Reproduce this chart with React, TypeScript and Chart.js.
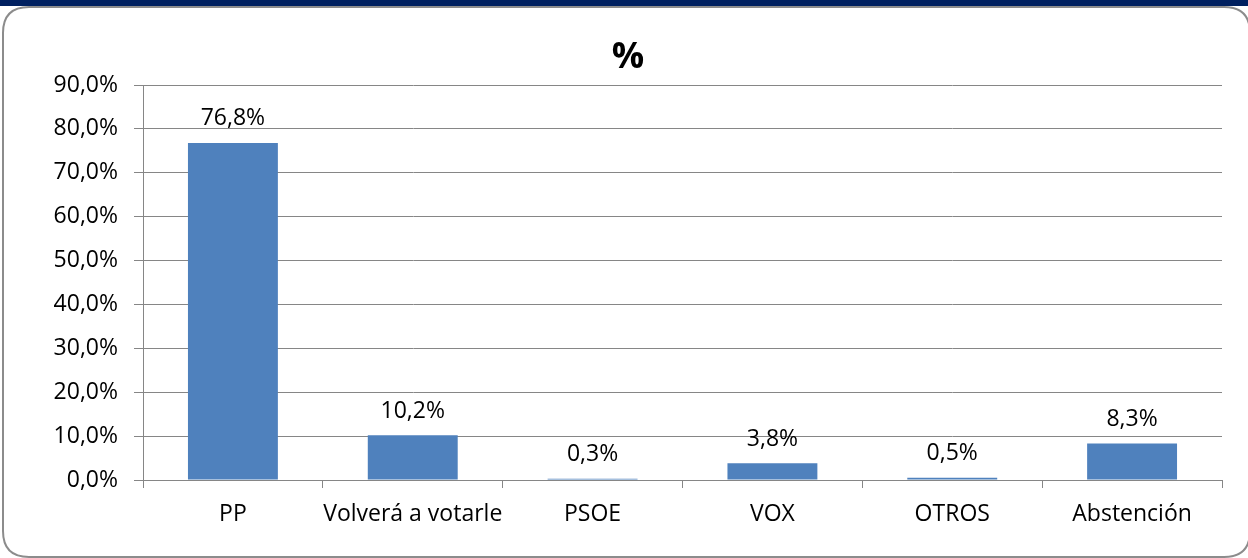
import React, { useEffect, useRef } from "react";
import { Chart, registerables } from "chart.js";

Chart.register(...registerables);

const categories = ["PP", "Volverá a votarle", "PSOE", "VOX", "OTROS", "Abstención"];
const values = [76.8, 10.2, 0.3, 3.8, 0.5, 8.3];
const titleText = "%";
const FONT = "'Open Sans', Lato, sans-serif";

const fmt = (v: number) => v.toFixed(1).replace(".", ",") + "%";

const framePlugin = {
  id: "frame",
  beforeDraw(chart: any) {
    const ctx = chart.ctx;
    ctx.save();
    ctx.fillStyle = "#ffffff";
    ctx.fillRect(0, 0, chart.width, chart.height);
    ctx.fillStyle = "#002060";
    ctx.fillRect(0, 0, chart.width, 6);
    const x = 3, y = 7, w = 1247, h = 550, r = 26;
    ctx.beginPath();
    ctx.moveTo(x + r, y);
    ctx.lineTo(x + w - r, y);
    ctx.quadraticCurveTo(x + w, y, x + w, y + r);
    ctx.lineTo(x + w, y + h - r);
    ctx.quadraticCurveTo(x + w, y + h, x + w - r, y + h);
    ctx.lineTo(x + r, y + h);
    ctx.quadraticCurveTo(x, y + h, x, y + h - r);
    ctx.lineTo(x, y + r);
    ctx.quadraticCurveTo(x, y, x + r, y);
    ctx.closePath();
    ctx.strokeStyle = "#8c8c8c";
    ctx.lineWidth = 2;
    ctx.stroke();
    ctx.fillStyle = "#000000";
    ctx.font = `bold 36px ${FONT}`;
    ctx.textAlign = "center";
    ctx.textBaseline = "middle";
    ctx.fillText(titleText, 628, 58);
    ctx.restore();
  },
  afterDatasetsDraw(chart: any) {
    const ctx = chart.ctx;
    const meta = chart.getDatasetMeta(0);
    ctx.save();
    ctx.fillStyle = "#000000";
    ctx.font = `23px ${FONT}`;
    ctx.textAlign = "center";
    ctx.textBaseline = "middle";
    meta.data.forEach((bar: any, i: number) => {
      ctx.fillText(fmt(values[i]), bar.x, bar.y - 24);
    });
    ctx.restore();
  },
};

export default function App() {
  const ref = useRef<HTMLCanvasElement | null>(null);
  useEffect(() => {
    if (!ref.current) return;
    const chart = new Chart(ref.current, {
      type: "bar",
      data: {
        labels: categories,
        datasets: [
          {
            data: values,
            backgroundColor: "#4F81BD",
            barPercentage: 0.5,
            categoryPercentage: 1,
          },
        ],
      },
      options: {
        animation: false,
        responsive: false,
        maintainAspectRatio: false,
        layout: { padding: { top: 85, right: 26, left: 0, bottom: 0 } },
        plugins: { legend: { display: false }, tooltip: { enabled: false }, title: { display: false } },
        scales: {
          x: {
            offset: true,
            grid: { offset: true, drawOnChartArea: false, drawTicks: true, tickLength: 8, color: "#868686" },
            border: { display: true, color: "#868686", width: 1 },
            ticks: { color: "#000000", font: { family: FONT, size: 23 }, padding: 13, maxRotation: 0, autoSkip: false },
            afterFit: (s: any) => { s.height = 78; },
          },
          y: {
            min: 0,
            max: 90,
            grid: { color: "#868686", tickLength: 9, drawTicks: true },
            border: { display: true, color: "#868686" },
            ticks: {
              stepSize: 10,
              color: "#000000",
              font: { family: FONT, size: 23 },
              padding: 16,
              callback: (v: any) => fmt(Number(v)),
            },
            afterFit: (s: any) => { s.width = 143; },
          },
        },
      },
      plugins: [framePlugin],
    });
    return () => chart.destroy();
  }, []);
  return (
    <div style={{ position: "fixed", left: 0, top: 0, width: 1248, height: 558 }}>
      <canvas ref={ref} width={1248} height={558} style={{ width: 1248, height: 558, display: "block" }} />
    </div>
  );
}
